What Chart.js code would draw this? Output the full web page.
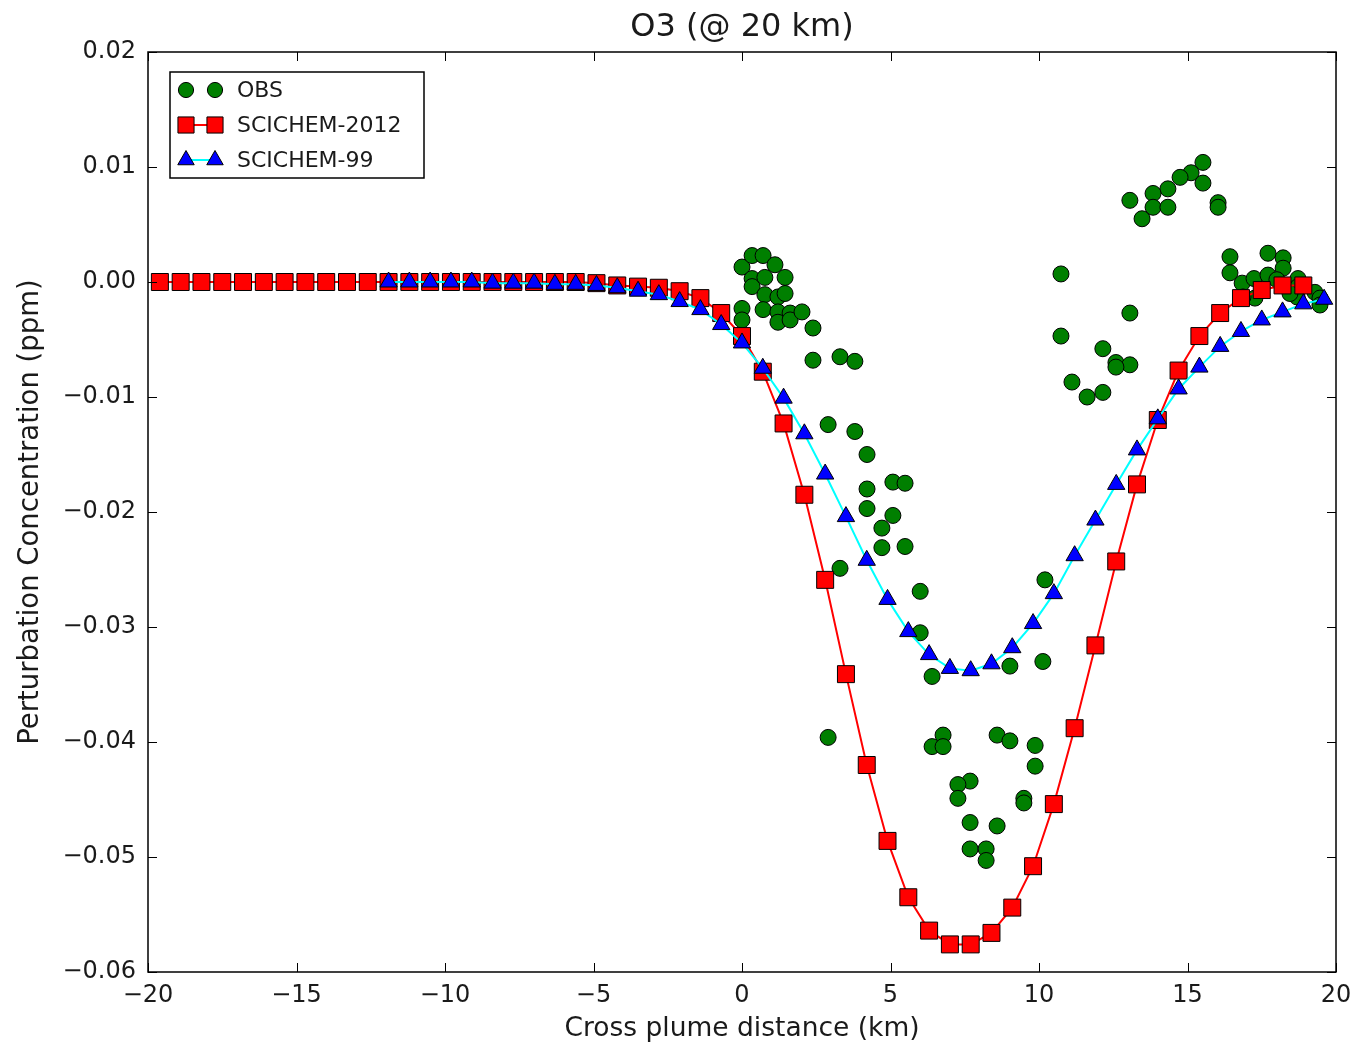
<!DOCTYPE html>
<html>
<head>
<meta charset="utf-8">
<script src="https://cdn.jsdelivr.net/npm/chart.js@4.4.0/dist/chart.umd.min.js"></script>
<style>
  html, body { margin: 0; padding: 0; background: #fff; }
  #wrap { width: 1355px; height: 1045px; }
</style>
</head>
<body>
<div id="wrap"><canvas id="o3chart"></canvas></div>
<script>
// observed points
var obsX = [0.0, 0.34, 0.71, 1.11, 0.34, 0.34, 0.77, 1.45, 0.77, 1.21, 1.45, 0.0, 0.0, 0.71, 1.21, 1.21, 1.62, 1.62, 2.02, 2.39,
    2.39, 3.30, 3.80, 2.90, 3.80, 4.21, 4.21, 5.08, 5.49, 4.21, 5.08, 4.71, 4.71, 5.49, 3.30, 6.00, 6.00, 6.40, 9.02, 10.20,
    10.13, 2.90, 6.77, 6.40, 6.77, 8.59, 9.02, 9.87, 9.87, 7.68, 7.27, 7.27, 9.49, 9.49, 7.68, 8.59, 7.68, 8.22, 8.22,
    15.52, 15.12, 14.75, 15.52, 14.34, 13.84, 13.06, 13.84, 14.34, 13.47, 16.03, 16.03, 10.74, 10.74, 13.06, 12.15, 12.59,
    13.06, 12.59, 11.11, 11.62, 12.15, 16.43, 16.43, 17.71, 18.22, 18.22, 16.84, 17.24, 17.71, 18.01, 18.72, 18.72, 19.29,
    19.46, 19.46, 18.69, 17.27, 16.87, 18.45];
var obsY = [0.0013, 0.0023, 0.0023, 0.0015, 0.0003, -0.0004, 0.0004, 0.0004, -0.0011, -0.0013, -0.0010, -0.0023, -0.0033,
    -0.0024, -0.0026, -0.0035, -0.0027, -0.0033, -0.0026, -0.0040,
    -0.0068, -0.0065, -0.0069, -0.0124, -0.0130, -0.0150, -0.0180, -0.0174, -0.0175, -0.0197, -0.0203, -0.0214, -0.0231,
    -0.0230, -0.0249, -0.0269, -0.0305, -0.0343, -0.0334, -0.0259,
    -0.0330, -0.0396, -0.0394, -0.0404, -0.0404, -0.0394, -0.0399, -0.0403, -0.0421, -0.0434, -0.0437, -0.0449, -0.0449,
    -0.0453, -0.0470, -0.0473, -0.0493, -0.0493, -0.0503,
    0.0104, 0.0095, 0.0091, 0.0086, 0.0081, 0.0077, 0.0071, 0.0065, 0.0065, 0.0055, 0.0069, 0.0065, 0.0007, -0.0047,
    -0.0027, -0.0058, -0.0070,
    -0.0072, -0.0074, -0.0087, -0.0100, -0.0096, 0.0022, 0.0008, 0.0025, 0.0021, 0.0012, -0.0001, 0.0003, 0.0006, 0.0002,
    0.0003, -0.0004, -0.0009,
    -0.0014, -0.0020, -0.0013, -0.0014, -0.0013, -0.0010];

// SCICHEM-2012
var sci2012X = [-19.6, -18.9, -18.2, -17.5, -16.8, -16.1, -15.4, -14.7, -14.0, -13.3, -12.6, -11.9, -11.2, -10.5, -9.8, -9.1,
    -8.4, -7.7, -7.0, -6.3, -5.6, -4.9, -4.2, -3.5, -2.8, -2.1, -1.4, -0.7, 0.0, 0.7, 1.4, 2.1, 2.8, 3.5, 4.2, 4.9, 5.6, 6.3,
    7.0, 7.7, 8.4, 9.1, 9.8, 10.5, 11.2, 11.9, 12.6, 13.3, 14.0, 14.7, 15.4, 16.1, 16.8, 17.5, 18.2, 18.9];
var sci2012Y = [0, 0, 0, 0, 0, 0, 0, 0, 0, 0, 0, 0, 0, 0, 0, 0,
    0, 0, 0, 0, 0, -0.0001, -0.0003, -0.0004, -0.0005, -0.0008, -0.0014, -0.0027, -0.0047, -0.0078, -0.0123, -0.0185,
    -0.0259, -0.0341, -0.0420, -0.0486, -0.0535, -0.0564,
    -0.0576, -0.0576, -0.0566, -0.0544, -0.0508, -0.0454, -0.0388, -0.0316, -0.0243, -0.0176, -0.0120, -0.0077, -0.0047,
    -0.0027, -0.0014, -0.0007, -0.0003, -0.0003];

// SCICHEM-99
var sci99X = [-11.9, -11.2, -10.5, -9.8, -9.1, -8.4, -7.7, -7.0, -6.3, -5.6, -4.9, -4.2, -3.5, -2.8, -2.1, -1.4, -0.7, 0.0,
    0.7, 1.4, 2.1, 2.8, 3.5, 4.2, 4.9, 5.6, 6.3, 7.0, 7.7, 8.4, 9.1, 9.8, 10.5, 11.2, 11.9, 12.6, 13.3, 14.0, 14.7, 15.4,
    16.1, 16.8, 17.5, 18.2, 18.9, 19.6];
var sci99Y = [0, 0, 0, 0, 0, -0.0001, -0.0001, -0.0001, -0.0002, -0.0002, -0.0003, -0.0005, -0.0008, -0.0011, -0.0017,
    -0.0024, -0.0037, -0.0053,
    -0.0075, -0.0101, -0.0132, -0.0167, -0.0204, -0.0242, -0.0276, -0.0304, -0.0324, -0.0336, -0.0338, -0.0332, -0.0318,
    -0.0297, -0.0271, -0.0238, -0.0207, -0.0176, -0.0146, -0.0119, -0.0093, -0.0074,
    -0.0056, -0.0043, -0.0033, -0.0026, -0.0019, -0.0015];

var xTicks = [-20, -15, -10, -5, 0, 5, 10, 15, 20];
var yTicks = [0.02, 0.01, 0.00, -0.01, -0.02, -0.03, -0.04, -0.05, -0.06];

function pairs(xs, ys) {
    var out = [];
    for (var i = 0; i < xs.length; i++) out.push({x: xs[i], y: ys[i]});
    return out;
}

function minusSign(s) { return s.replace('-', '\u2212'); }

var FONT = "'DejaVu Sans', sans-serif";

var obsStyle = {pointStyle: 'circle', radius: 8, backgroundColor: '#007f00', borderColor: '#000', borderWidth: 1};
var redStyle = {pointStyle: 'rect', radius: 12, backgroundColor: '#ff0000', borderColor: '#000', borderWidth: 1};
var blueStyle = {pointStyle: 'triangle', radius: 10, backgroundColor: '#0000ff', borderColor: '#000', borderWidth: 1};

// frame, inward ticks on all four sides, and legend box
var framePlugin = {
    id: 'frame',
    afterDatasetsDraw: function(chart) {
        var ctx = chart.ctx;
        var a = chart.chartArea;
        var xs = chart.scales.x, ys = chart.scales.y;
        ctx.save();
        ctx.strokeStyle = '#000';
        ctx.lineWidth = 1.5;
        ctx.strokeRect(a.left, a.top, a.right - a.left, a.bottom - a.top);
        ctx.lineWidth = 1;
        var tl = 9;
        ctx.beginPath();
        xTicks.forEach(function(v) {
            var px = Math.round(xs.getPixelForValue(v)) + 0.5;
            ctx.moveTo(px, a.bottom); ctx.lineTo(px, a.bottom - tl);
            ctx.moveTo(px, a.top); ctx.lineTo(px, a.top + tl);
        });
        yTicks.forEach(function(v) {
            var py = Math.round(ys.getPixelForValue(v)) + 0.5;
            ctx.moveTo(a.left, py); ctx.lineTo(a.left + tl, py);
            ctx.moveTo(a.right, py); ctx.lineTo(a.right - tl, py);
        });
        ctx.stroke();

        // legend
        var bx = 170, by = 72, bw = 254, bh = 106;
        ctx.fillStyle = '#fff';
        ctx.fillRect(bx, by, bw, bh);
        ctx.lineWidth = 1.5;
        ctx.strokeRect(bx, by, bw, bh);
        var rows = [
            {label: 'OBS', style: obsStyle, line: null},
            {label: 'SCICHEM-2012', style: redStyle, line: '#ff0000'},
            {label: 'SCICHEM-99', style: blueStyle, line: '#00ffff'}
        ];
        rows.forEach(function(r, i) {
            var cy = 90 + i * 35;
            if (r.line) {
                ctx.strokeStyle = r.line;
                ctx.lineWidth = 2;
                ctx.beginPath();
                ctx.moveTo(186, cy); ctx.lineTo(215, cy);
                ctx.stroke();
            }
            [186, 215].forEach(function(mx) {
                ctx.fillStyle = r.style.backgroundColor;
                ctx.strokeStyle = r.style.borderColor;
                ctx.lineWidth = 1;
                Chart.helpers.drawPoint(ctx, {pointStyle: r.style.pointStyle, radius: r.style.radius * 0.95, rotation: 0, borderWidth: 1}, mx, cy);
            });
            ctx.fillStyle = '#1a1a1a';
            ctx.font = '22px ' + FONT;
            ctx.textBaseline = 'middle';
            ctx.textAlign = 'left';
            ctx.fillText(r.label, 237, cy + 1);
        });
        ctx.restore();
    }
};

new Chart(document.getElementById('o3chart'), {
    type: 'scatter',
    data: {
        datasets: [
            {
                label: 'OBS',
                data: pairs(obsX, obsY),
                showLine: false,
                pointStyle: 'circle',
                pointRadius: obsStyle.radius,
                pointBackgroundColor: obsStyle.backgroundColor,
                pointBorderColor: '#000',
                pointBorderWidth: 1,
                order: 3
            },
            {
                label: 'SCICHEM-2012',
                data: pairs(sci2012X, sci2012Y),
                showLine: true,
                borderColor: '#ff0000',
                borderWidth: 2,
                pointStyle: 'rect',
                pointRadius: redStyle.radius,
                pointBackgroundColor: '#ff0000',
                pointBorderColor: '#000',
                pointBorderWidth: 1,
                order: 2
            },
            {
                label: 'SCICHEM-99',
                data: pairs(sci99X, sci99Y),
                showLine: true,
                borderColor: '#00ffff',
                borderWidth: 2,
                pointStyle: 'triangle',
                pointRadius: blueStyle.radius,
                pointBackgroundColor: '#0000ff',
                pointBorderColor: '#000',
                pointBorderWidth: 1,
                order: 1
            }
        ]
    },
    options: {
        responsive: true,
        maintainAspectRatio: false,
        animation: false,
        events: [],
        layout: {padding: {left: 0, right: 19, top: 0, bottom: 0}},
        plugins: {
            legend: {display: false},
            tooltip: {enabled: false},
            title: {
                display: true,
                fullSize: false,
                text: 'O3 (@ 20 km)',
                color: '#1a1a1a',
                font: {family: FONT, size: 32, weight: 'normal'},
                padding: {top: 8.5, bottom: 5.1}
            }
        },
        scales: {
            x: {
                type: 'linear',
                min: -20, max: 20,
                afterBuildTicks: function(s) { s.ticks = xTicks.map(function(v) { return {value: v}; }); },
                afterFit: function(s) { s.height = 73; s.paddingLeft = 0; s.paddingRight = 0; },
                grid: {display: false, drawTicks: false},
                border: {display: false},
                ticks: {
                    color: '#1a1a1a',
                    font: {family: FONT, size: 24},
                    padding: 9,
                    maxRotation: 0,
                    callback: function(v) { return minusSign(String(v)); }
                },
                title: {
                    display: true,
                    text: 'Cross plume distance (km)',
                    color: '#1a1a1a',
                    font: {family: FONT, size: 26.5},
                    padding: {top: 0, bottom: 0}
                }
            },
            y: {
                type: 'linear',
                min: -0.06, max: 0.02,
                afterBuildTicks: function(s) { s.ticks = yTicks.map(function(v) { return {value: v}; }); },
                afterFit: function(s) { s.width = 148; s.paddingTop = 0; s.paddingBottom = 0; },
                grid: {display: false, drawTicks: false},
                border: {display: false},
                ticks: {
                    color: '#1a1a1a',
                    font: {family: FONT, size: 24},
                    padding: 12,
                    callback: function(v) {
                        if (Math.abs(v) < 1e-9) return '0.00';
                        return minusSign(v.toFixed(2));
                    }
                },
                title: {
                    display: true,
                    text: 'Perturbation Concentration (ppm)',
                    color: '#1a1a1a',
                    font: {family: FONT, size: 27.5},
                    padding: {top: 14, bottom: 0}
                }
            }
        }
    },
    plugins: [framePlugin]
});
</script>
</body>
</html>
